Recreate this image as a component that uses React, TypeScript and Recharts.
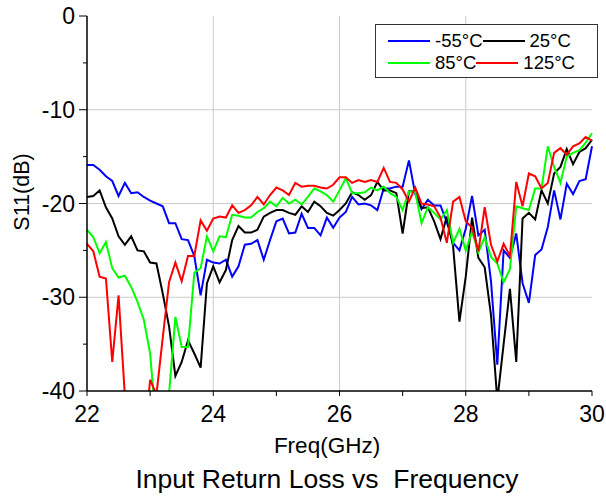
import { LineChart, Line, XAxis, YAxis, CartesianGrid } from "recharts";

// sweep 22..30 GHz, 0.1 GHz step
const FREQ_START = 22;
const FREQ_STEP = 0.1;

const sM55 = [
    -15.9, -15.9, -16.4, -17.1, -17.6, -19.2, -17.8, -18.9, -18.8, -19.3,
    -19.7, -20.0, -20.3, -22.1, -22.1, -23.8, -23.9, -25.6, -29.8, -26.0,
    -26.3, -26.4, -26.0, -27.8, -26.7, -24.4, -24.3, -23.9, -26.0, -23.9,
    -21.9, -21.6, -23.2, -23.1, -21.1, -22.6, -22.6, -23.4, -21.5, -22.6,
    -21.5, -20.9, -19.3, -20.1, -20.0, -20.2, -20.7, -18.4, -18.4, -18.2,
    -18.2, -15.4, -19.0, -20.6, -19.6, -20.2, -20.2, -22.0, -24.2, -25.0,
    -22.7, -19.2, -23.4, -22.8, -28.3, -37.2, -25.0, -25.8, -23.2, -28.5,
    -30.6, -25.5, -24.9, -22.5, -18.6, -21.7, -17.9, -19.0, -17.6, -17.4,
    -13.9,
];

const s25 = [
    -19.3, -19.2, -18.6, -20.4, -21.6, -23.5, -24.4, -23.5, -25.0, -25.1,
    -26.3, -26.4, -29.6, -33.1, -38.4, -36.9, -34.6, -36.0, -37.5, -28.5,
    -26.7, -28.4, -27.1, -23.9, -22.4, -23.1, -23.1, -22.8, -21.4, -21.0,
    -20.7, -20.7, -21.0, -21.2, -20.3, -20.9, -19.8, -20.3, -21.0, -21.3,
    -20.7, -20.0, -18.8, -19.1, -19.6, -19.1, -17.7, -18.6, -18.6, -18.9,
    -23.2, -18.7, -18.7, -20.5, -20.4, -21.9, -23.8, -21.4, -24.6, -32.6,
    -27.8, -21.5, -25.8, -26.8, -31.9, -41.0, -35.0, -29.1, -36.9, -21.6,
    -21.0, -21.7, -18.6, -20.0, -16.8, -16.1, -14.2, -15.8, -14.5, -14.1,
    -13.2,
];

const s85 = [
    -22.8, -23.6, -25.3, -24.1, -26.9, -27.9, -27.7, -28.9, -30.5, -32.4,
    -36.0, -44.0, -45.0, -40.3, -32.1, -35.3, -35.3, -27.4, -26.9, -23.5,
    -25.1, -23.5, -23.6, -21.2, -21.3, -21.5, -21.5, -20.9, -20.5, -19.8,
    -20.3, -19.4, -20.0, -19.6, -20.1, -19.3, -18.4, -18.7, -19.1, -19.8,
    -18.6, -17.3, -18.9, -18.9, -18.8, -18.3, -18.6, -18.2, -18.9, -19.3,
    -20.7, -18.7, -18.8, -22.1, -20.4, -21.0, -21.7, -20.7, -24.2, -22.7,
    -25.0, -23.0, -25.2, -23.6, -25.7, -26.4, -28.4, -27.0, -20.3, -20.5,
    -20.7, -18.4, -18.4, -13.9, -16.1, -17.8, -15.0, -14.6, -14.3, -13.5,
    -12.5,
];

const s125 = [
    -24.3, -25.1, -27.8, -28.0, -36.9, -29.8, -40.5, -45.0, -46.0, -46.0,
    -38.8, -40.4, -34.3, -28.4, -26.3, -28.3, -25.6, -25.6, -21.8, -22.9,
    -21.6, -21.4, -21.5, -20.2, -21.0, -20.7, -20.2, -19.3, -20.1, -19.1,
    -18.3, -18.6, -19.1, -17.8, -18.2, -18.1, -18.1, -18.3, -18.4, -18.0,
    -17.2, -17.2, -17.8, -17.5, -17.7, -17.5, -17.7, -16.2, -17.7, -17.8,
    -18.5, -19.8, -18.3, -20.0, -20.1, -20.3, -21.5, -24.2, -19.8, -19.3,
    -21.9, -22.6, -25.1, -20.4, -24.4, -26.2, -24.3, -25.6, -17.7, -20.3,
    -16.8, -17.1, -18.4, -17.8, -14.6, -14.1, -14.8, -13.9, -13.6, -12.9,
    -13.3,
];

const xTicks = [22, 23, 24, 25, 26, 27, 28, 29, 30];
const xLabels = [22, 24, 26, 28, 30];
const yTicks = [-40, -35, -30, -25, -20, -15, -10, -5, 0];
const yLabels = [-40, -30, -20, -10, 0];

const series = [
    { key: "m55", name: "-55°C", color: "#0000ff", values: sM55 },
    { key: "p25", name: "25°C", color: "#000000", values: s25 },
    { key: "p85", name: "85°C", color: "#00ff00", values: s85 },
    { key: "p125", name: "125°C", color: "#ff0000", values: s125 },
];

const data = sM55.map((_, i) => {
    const row: Record<string, number> = { f: Math.round((FREQ_START + i * FREQ_STEP) * 10) / 10 };
    series.forEach((s) => {
        row[s.key] = s.values[i];
    });
    return row;
});

const FONT = "Arial, 'Liberation Sans', sans-serif";

function XTick({ x, y, payload }: any) {
    const major = xLabels.includes(payload.value);
    return (
        <g>
            <line x1={x} x2={x} y1={y} y2={y + 5} stroke="#000" />
            {major && (
                <text x={x} y={y + 31} textAnchor="middle" fontSize={23} fontFamily={FONT} fill="#000">
                    {payload.value}
                </text>
            )}
        </g>
    );
}

function YTick({ x, y, payload }: any) {
    const major = yLabels.includes(payload.value);
    return (
        <g>
            <line x1={x - (major ? 8 : 4)} x2={x} y1={y} y2={y} stroke="#000" />
            {major && (
                <text x={x - 12} y={y + 8} textAnchor="end" fontSize={23} fontFamily={FONT} fill="#000">
                    {payload.value}
                </text>
            )}
        </g>
    );
}

function App() {
    return (
        <div style={{ position: "absolute", left: 0, top: 0, width: 606, height: 500, background: "#fff" }}>
            <LineChart width={606} height={500} data={data} margin={{ top: 16, right: 14, bottom: 0, left: 0 }}>
                <CartesianGrid
                    stroke="#cccccc"
                    verticalValues={[24, 26, 28]}
                    horizontalValues={[-30, -20, -10]}
                />
                <XAxis
                    dataKey="f"
                    type="number"
                    domain={[22, 30]}
                    ticks={xTicks}
                    interval={0}
                    height={109}
                    tickSize={0}
                    tickMargin={0}
                    tickLine={false}
                    tick={<XTick />}
                    axisLine={{ stroke: "#000", strokeWidth: 1.5 }}
                    label={(p: any) => (
                        <text
                            x={p.viewBox.x + 240}
                            y={453}
                            textAnchor="middle"
                            fontSize={22.5}
                            fontFamily={FONT}
                            fill="#000"
                        >
                            Freq(GHz)
                        </text>
                    )}
                />
                <YAxis
                    type="number"
                    domain={[-40, 0]}
                    ticks={yTicks}
                    interval={0}
                    width={87}
                    allowDataOverflow
                    tickSize={0}
                    tickMargin={0}
                    tickLine={false}
                    tick={<YTick />}
                    axisLine={{ stroke: "#000", strokeWidth: 1.5 }}
                    label={() => (
                        <text
                            x={22}
                            y={192}
                            transform="rotate(-90 22 192)"
                            textAnchor="middle"
                            dominantBaseline="central"
                            fontSize={21.5}
                            fontFamily={FONT}
                            fill="#000"
                        >
                            S11(dB)
                        </text>
                    )}
                />
                <XAxis
                    xAxisId="top"
                    orientation="top"
                    type="number"
                    domain={[22, 30]}
                    height={0}
                    tick={false}
                    tickLine={false}
                    axisLine={{ stroke: "#000", strokeWidth: 1.5 }}
                />
                <YAxis
                    yAxisId="right"
                    orientation="right"
                    type="number"
                    domain={[-40, 0]}
                    width={0}
                    tick={false}
                    tickLine={false}
                    axisLine={{ stroke: "#000", strokeWidth: 1.5 }}
                />
                {series.map((s) => (
                    <Line
                        key={s.key}
                        type="linear"
                        dataKey={s.key}
                        name={s.name}
                        stroke={s.color}
                        strokeWidth={2}
                        dot={false}
                        isAnimationActive={false}
                    />
                ))}
            </LineChart>

            {/* legend box */}
            <div
                style={{
                    position: "absolute",
                    left: 375,
                    top: 24,
                    width: 209,
                    height: 47,
                    border: "1px solid #333",
                    background: "#fff",
                    paddingTop: 5,
                    paddingLeft: 12,
                    boxSizing: "content-box",
                    fontFamily: FONT,
                    fontSize: 18.5,
                    color: "#000",
                }}
            >
                {[series.slice(0, 2), series.slice(2, 4)].map((row, r) => (
                    <div key={r} style={{ display: "flex", alignItems: "center", height: 22 }}>
                        {row.map((s) => (
                            <div key={s.key} style={{ display: "flex", alignItems: "center" }}>
                                <span style={{ display: "inline-block", width: 42, height: 2, background: s.color }} />
                                <span style={{ marginLeft: 5, lineHeight: "22px" }}>{s.name}</span>
                            </div>
                        ))}
                    </div>
                ))}
            </div>

            <svg width={606} height={40} style={{ position: "absolute", left: 0, top: 460 }}>
                <text x={327} y={28} textAnchor="middle" fontSize={26.5} fontFamily={FONT} fill="#000" style={{ whiteSpace: "pre" }}>
                    {"Input Return Loss vs  Frequency"}
                </text>
            </svg>
        </div>
    );
}

export default App;
